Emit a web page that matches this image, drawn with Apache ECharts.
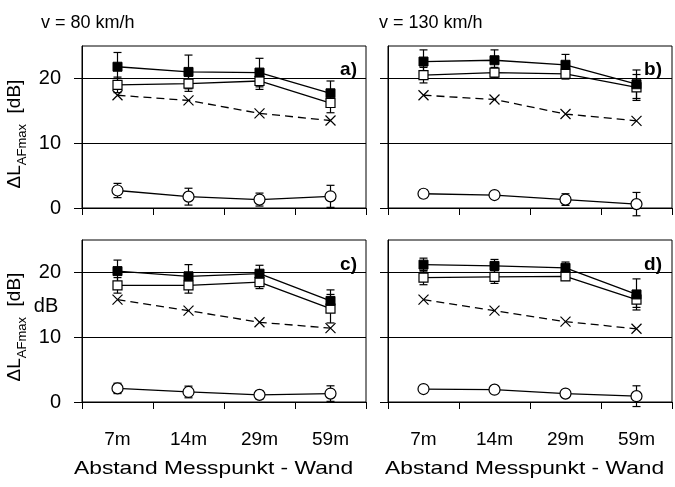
<!DOCTYPE html>
<html>
<head>
<meta charset="utf-8">
<script src="https://cdn.jsdelivr.net/npm/echarts@6/dist/echarts.min.js"></script>
<style>
  html, body { margin: 0; padding: 0; background: #fff; }
  #main { width: 675px; height: 487px; }
</style>
</head>
<body>
<div id="main"></div>
<script>
// Abstand Messpunkt - Wand
var categories = ['7m', '14m', '29m', '59m'];
var yTicks = [0, 10, 20];

// a) v = 80 km/h
var aFilled = [21.8, 21.0, 20.9, 17.7];
var aFilledErr = [2.2, 2.6, 2.2, 1.9];
var aOpen = [19.0, 19.2, 19.6, 16.2];
var aOpenErr = [1.2, 1.2, 1.3, 1.5];
var aCross = [17.4, 16.6, 14.6, 13.5];
var aCircle = [2.7, 1.75, 1.3, 1.8];
var aCircleErr = [1.1, 1.3, 1.0, 1.7];

// b) v = 130 km/h
var bFilled = [22.6, 22.8, 22.1, 19.1];
var bFilledErr = [1.8, 1.6, 1.6, 2.2];
var bOpen = [20.5, 20.9, 20.7, 18.6];
var bOpenErr = [1.2, 0.8, 0.8, 2.0];
var bCross = [17.4, 16.75, 14.5, 13.45];
var bCircle = [2.2, 2.0, 1.3, 0.6];
var bCircleErr = [0.6, 0.5, 0.9, 1.8];

// c)
var cFilled = [20.2, 19.4, 19.8, 15.6];
var cFilledErr = [1.7, 1.8, 1.3, 1.7];
var cOpen = [18.0, 18.0, 18.5, 14.4];
var cOpenErr = [1.2, 1.2, 1.0, 2.2];
var cCross = [15.8, 14.1, 12.3, 11.4];
var cCircle = [2.1, 1.55, 1.1, 1.3];
var cCircleErr = [0.8, 0.9, 0.6, 1.2];

// d)
var dFilled = [21.2, 21.0, 20.7, 16.6];
var dFilledErr = [1.0, 1.0, 0.9, 2.4];
var dOpen = [19.2, 19.3, 19.4, 15.8];
var dOpenErr = [1.1, 1.0, 0.6, 1.2];
var dCross = [15.8, 14.1, 12.4, 11.3];
var dCircle = [2.0, 1.9, 1.3, 0.9];
var dCircleErr = [0.3, 0.2, 0.4, 1.6];

var panels = [
  {label: 'a)', filled: aFilled, filledErr: aFilledErr, open: aOpen, openErr: aOpenErr, cross: aCross, circle: aCircle, circleErr: aCircleErr},
  {label: 'b)', filled: bFilled, filledErr: bFilledErr, open: bOpen, openErr: bOpenErr, cross: bCross, circle: bCircle, circleErr: bCircleErr},
  {label: 'c)', filled: cFilled, filledErr: cFilledErr, open: cOpen, openErr: cOpenErr, cross: cCross, circle: cCircle, circleErr: cCircleErr},
  {label: 'd)', filled: dFilled, filledErr: dFilledErr, open: dOpen, openErr: dOpenErr, cross: dCross, circle: dCircle, circleErr: dCircleErr}
];

var FONT = '"Liberation Sans", Arial, sans-serif';
var grids = [
  {left: 82, top: 46, width: 284, height: 162},
  {left: 388, top: 46, width: 284, height: 162},
  {left: 82, top: 240, width: 284, height: 162},
  {left: 388, top: 240, width: 284, height: 162}
];

function errData(vals, errs) {
  return vals.map(function (v, i) { return [i, v - errs[i], v + errs[i]]; });
}

function renderErr(params, api) {
  var x = api.value(0);
  var lo = api.coord([x, api.value(1)]);
  var hi = api.coord([x, api.value(2)]);
  var w = 4;
  var st = {stroke: '#000', lineWidth: 1.2};
  return {
    type: 'group',
    children: [
      {type: 'line', shape: {x1: lo[0], y1: lo[1], x2: hi[0], y2: hi[1]}, style: st},
      {type: 'line', shape: {x1: lo[0] - w, y1: lo[1], x2: lo[0] + w, y2: lo[1]}, style: st},
      {type: 'line', shape: {x1: hi[0] - w, y1: hi[1], x2: hi[0] + w, y2: hi[1]}, style: st}
    ]
  };
}

var xAxes = [], yAxes = [], series = [];
panels.forEach(function (p, k) {
  var bottomRow = k >= 2;
  xAxes.push({
    type: 'category', gridIndex: k, data: categories, boundaryGap: true,
    axisLine: {lineStyle: {color: '#000', width: 1}},
    axisTick: {show: true, length: 7, lineStyle: {color: '#000'}},
    axisLabel: {show: bottomRow, color: '#000', fontFamily: FONT, fontSize: 19, margin: 28}
  });
  yAxes.push({
    type: 'value', gridIndex: k, min: 0, max: 25, interval: 10,
    axisLine: {show: true, lineStyle: {color: '#000', width: 1}},
    axisTick: {show: true, length: 8, customValues: yTicks, lineStyle: {color: '#000'}},
    axisLabel: {show: k % 2 === 0, customValues: yTicks, color: '#000', fontFamily: FONT, fontSize: 20, margin: 21},
    splitLine: {show: true, lineStyle: {color: '#000', width: 1}}
  });

  var errStyle = {type: 'custom', xAxisIndex: k, yAxisIndex: k, renderItem: renderErr, encode: {x: 0, y: [1, 2]}, z: 1, silent: true};
  series.push(Object.assign({data: errData(p.open, p.openErr)}, errStyle));
  series.push(Object.assign({data: errData(p.filled, p.filledErr)}, errStyle));
  series.push(Object.assign({data: errData(p.circle, p.circleErr)}, errStyle));

  series.push({
    type: 'line', xAxisIndex: k, yAxisIndex: k, data: p.cross, z: 3,
    symbol: 'path://M0,0L10,10M10,0L0,10', symbolSize: 10,
    lineStyle: {color: '#000', width: 1.3, type: [8, 5]},
    itemStyle: {color: 'none', borderColor: '#000', borderWidth: 1.2}
  });
  series.push({
    type: 'line', xAxisIndex: k, yAxisIndex: k, data: p.open, z: 3,
    symbol: 'rect', symbolSize: 9,
    lineStyle: {color: '#000', width: 1.3},
    itemStyle: {color: '#fff', borderColor: '#000', borderWidth: 1.2}
  });
  series.push({
    type: 'line', xAxisIndex: k, yAxisIndex: k, data: p.filled, z: 4,
    symbol: 'rect', symbolSize: 9,
    lineStyle: {color: '#000', width: 1.3},
    itemStyle: {color: '#000', borderColor: '#000', borderWidth: 1}
  });
  series.push({
    type: 'line', xAxisIndex: k, yAxisIndex: k, data: p.circle, z: 3,
    symbol: 'circle', symbolSize: 11,
    lineStyle: {color: '#000', width: 1.3},
    itemStyle: {color: '#fff', borderColor: '#000', borderWidth: 1.2}
  });
});

var titleStyle = {color: '#000', fontFamily: FONT, fontSize: 18, fontWeight: 'normal'};
var labelStyle = {color: '#000', fontFamily: FONT, fontSize: 19, fontWeight: 'bold'};

function yName(cx, cy) {
  return {
    type: 'text', x: cx, y: cy, rotation: Math.PI / 2,
    style: {
      text: '{a|ΔL}{s|AFmax}{a|  [dB]}',
      fill: '#000', align: 'center', verticalAlign: 'middle',
      rich: {
        a: {fontFamily: FONT, fontSize: 19, lineHeight: 22, verticalAlign: 'top'},
        s: {fontFamily: FONT, fontSize: 13, lineHeight: 13, verticalAlign: 'top', padding: [11, 0, 0, 0]}
      }
    }
  };
}

function xName(x0) {
  return {
    type: 'text', x: x0, y: 469, scaleX: 1.2,
    style: {text: 'Abstand Messpunkt - Wand', fill: '#000', font: '19px ' + FONT, align: 'left', verticalAlign: 'middle'}
  };
}

var chart = echarts.init(document.getElementById('main'), null, {renderer: 'canvas'});
chart.setOption({
  animation: false,
  backgroundColor: '#fff',
  title: [
    {text: 'v = 80 km/h', left: 36, top: 9, textStyle: titleStyle},
    {text: 'v = 130 km/h', left: 374, top: 9, textStyle: titleStyle},
    {text: 'a)', right: 313, top: 55, textStyle: labelStyle},
    {text: 'b)', right: 8, top: 55, textStyle: labelStyle},
    {text: 'c)', right: 313, top: 250, textStyle: labelStyle},
    {text: 'd)', right: 8, top: 250, textStyle: labelStyle}
  ],
  grid: grids.map(function (g) {
    return Object.assign({show: true, borderColor: '#000', borderWidth: 1, backgroundColor: 'transparent'}, g);
  }),
  xAxis: xAxes,
  yAxis: yAxes,
  series: series,
  graphic: [
    yName(16, 134),
    yName(16, 327),
    {type: 'text', x: 46, y: 306, style: {text: 'dB', fill: '#000', font: '20px ' + FONT, align: 'center', verticalAlign: 'middle'}},
    xName(74),
    xName(385)
  ]
});
</script>
</body>
</html>
